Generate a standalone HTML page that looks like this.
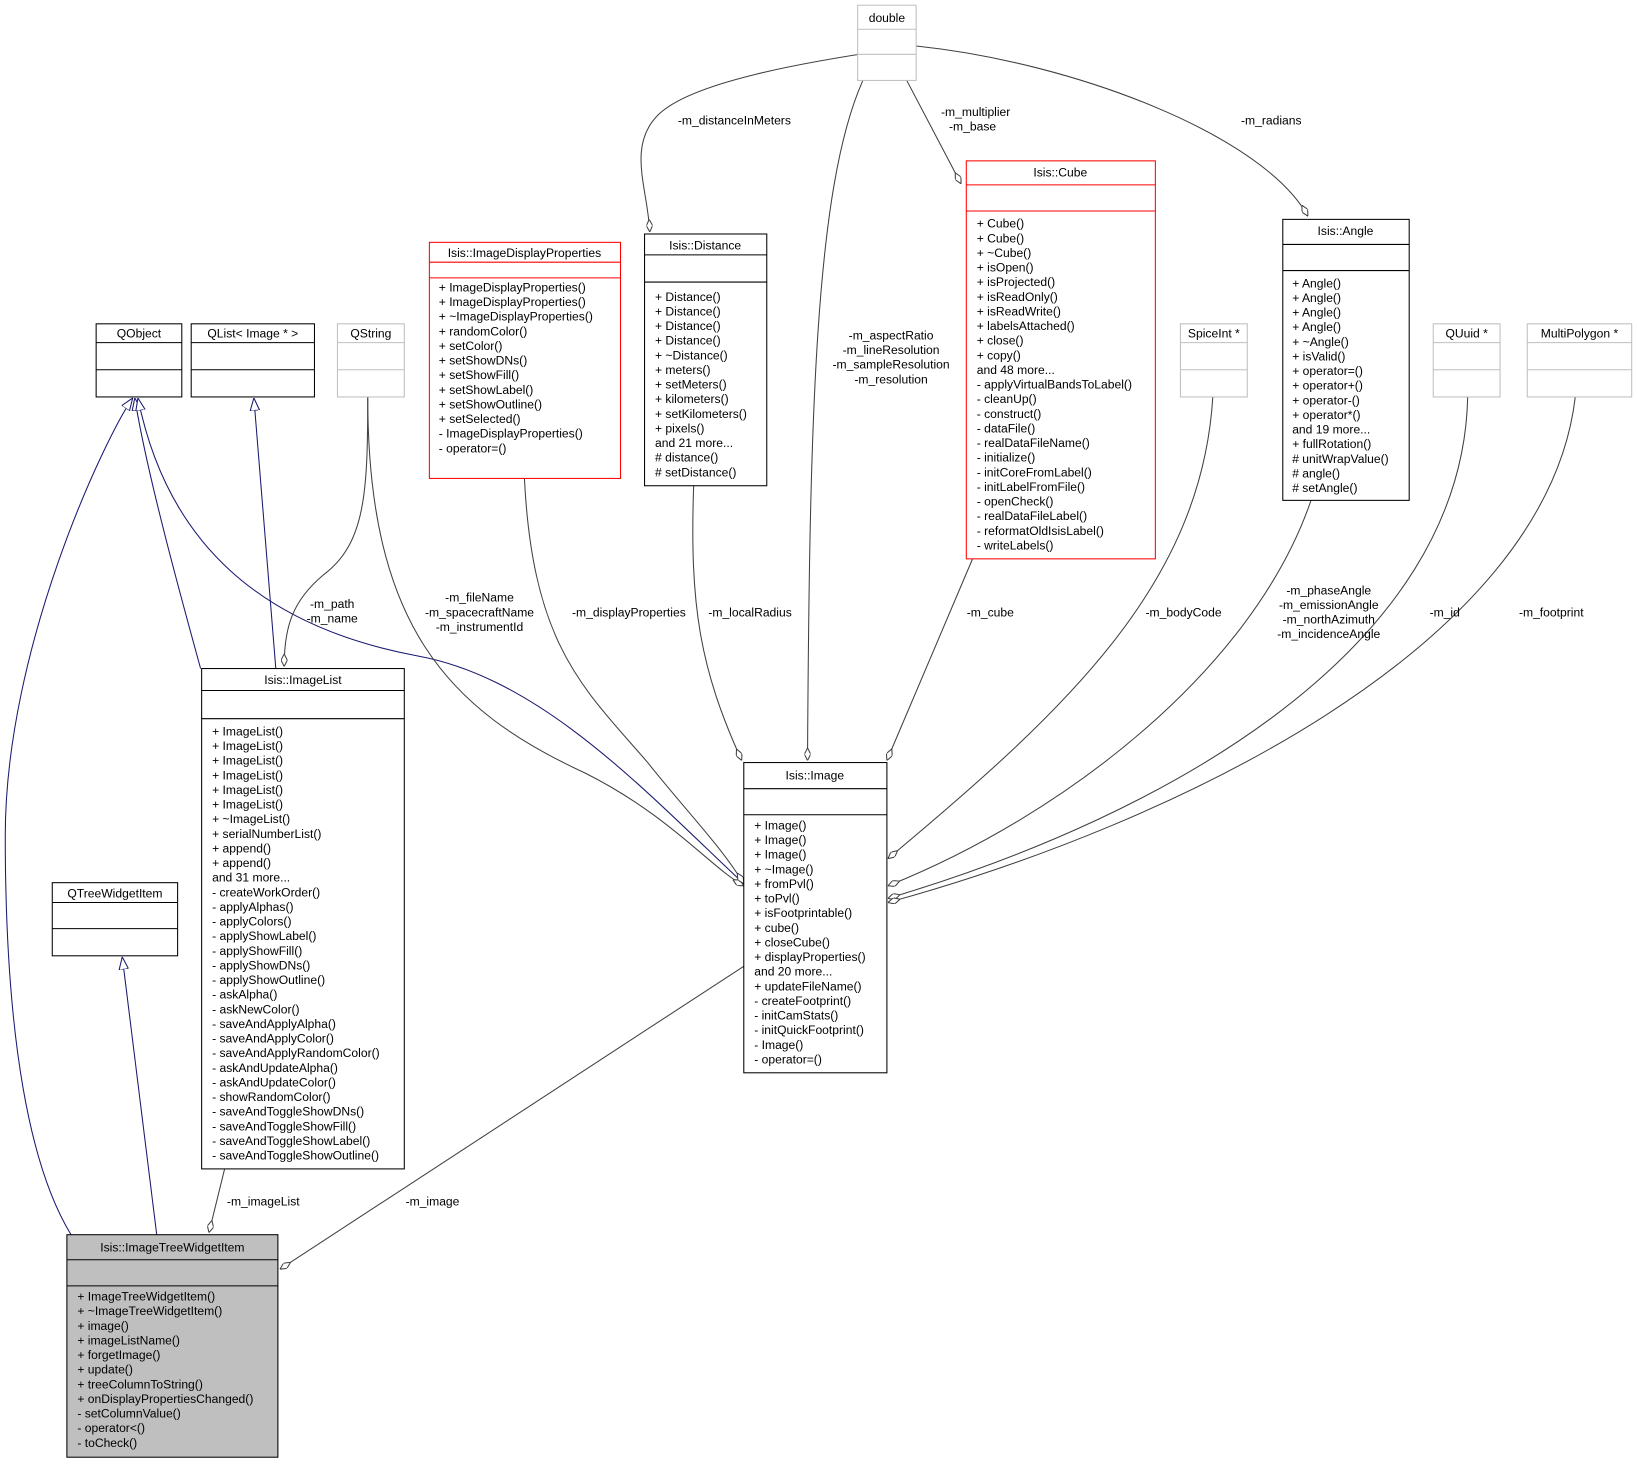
<!DOCTYPE html>
<html><head><meta charset="utf-8"><style>
html,body{margin:0;padding:0;background:#fff;}
svg{display:block;}
text{font-family:"Liberation Sans",sans-serif;font-size:11.6px;fill:#000;}
</style></head><body>
<svg width="1638" height="1464" viewBox="0 0 1568 1401.5" xmlns="http://www.w3.org/2000/svg">
<defs>
<marker id="dia" viewBox="0 0 12 6" refX="12" refY="3" markerWidth="12" markerHeight="6" markerUnits="userSpaceOnUse" orient="auto">
<path d="M0,3 L6,0 L12,3 L6,6 Z" fill="#fff" stroke="#404040" stroke-width="1"/>
</marker>
<marker id="tri" viewBox="0 0 12 10" refX="12" refY="5" markerWidth="12" markerHeight="10" markerUnits="userSpaceOnUse" orient="auto">
<path d="M0,0.5 L12,5 L0,9.5 Z" fill="#fff" stroke="#191970" stroke-width="1"/>
</marker>
</defs>
<g fill="none" stroke-width="1">
<path d="M68,1182 C30,1120 5,1000 5,800 C5,620 100,420 127,381" stroke="#191970" marker-end="url(#tri)"/>
<path d="M192,640 C170,560 140,450 129,381" stroke="#191970" marker-end="url(#tri)"/>
<path d="M712,846 C620,760 520,650 400,628 C250,600 160,520 132,381" stroke="#191970" marker-end="url(#tri)"/>
<path d="M150,1182 L117,916" stroke="#191970" marker-end="url(#tri)"/>
<path d="M264,640 L243,381" stroke="#191970" marker-end="url(#tri)"/>
<g stroke="#404040">
<path d="M352,380 C352,470 350,520 310,550 C280,575 272,600 272,638" marker-end="url(#dia)"/>
<path d="M352,380 C352,600 430,680 560,740 C640,780 680,830 712,848" marker-end="url(#dia)"/>
<path d="M502,458 C510,620 560,660 620,730 C660,780 690,810 712,846" marker-end="url(#dia)"/>
<path d="M664,465 C660,580 670,640 710,728" marker-end="url(#dia)"/>
<path d="M877,44 C760,60 660,80 630,110 C600,140 620,180 622,222" marker-end="url(#dia)"/>
<path d="M826,77 C780,180 775,400 773,728" marker-end="url(#dia)"/>
<path d="M868,77 L920,176" marker-end="url(#dia)"/>
<path d="M877,44 C1030,60 1210,130 1252,207" marker-end="url(#dia)"/>
<path d="M931,535 L849,728" marker-end="url(#dia)"/>
<path d="M1161,380 C1150,560 1020,680 850,822" marker-end="url(#dia)"/>
<path d="M1255,479 C1200,640 1020,780 850,848" marker-end="url(#dia)"/>
<path d="M1405,380 C1400,620 1120,780 850,860" marker-end="url(#dia)"/>
<path d="M1508,380 C1480,620 1120,790 850,864" marker-end="url(#dia)"/>
<path d="M215,1119 L200,1180" marker-end="url(#dia)"/>
<path d="M712,925 L268,1215" marker-end="url(#dia)"/>
</g>
</g>
<g text-anchor="middle">
<text x="318" y="582">-m_path</text><text x="318" y="596">-m_name</text>
<text x="459" y="576">-m_fileName</text><text x="459" y="590">-m_spacecraftName</text><text x="459" y="604">-m_instrumentId</text>
<text x="602" y="590">-m_displayProperties</text>
<text x="718" y="590">-m_localRadius</text>
<text x="703" y="119">-m_distanceInMeters</text>
<text x="853" y="325">-m_aspectRatio</text><text x="853" y="339">-m_lineResolution</text><text x="853" y="353">-m_sampleResolution</text><text x="853" y="367">-m_resolution</text>
<text x="934" y="111">-m_multiplier</text><text x="931" y="125">-m_base</text>
<text x="1217" y="119">-m_radians</text>
<text x="948" y="590">-m_cube</text>
<text x="1133" y="590">-m_bodyCode</text>
<text x="1272" y="569">-m_phaseAngle</text><text x="1272" y="583">-m_emissionAngle</text><text x="1272" y="597">-m_northAzimuth</text><text x="1272" y="611">-m_incidenceAngle</text>
<text x="1383" y="590">-m_id</text>
<text x="1485" y="590">-m_footprint</text>
<text x="252" y="1154">-m_imageList</text>
<text x="414" y="1154">-m_image</text>
</g>
<g stroke-width="1">
<g fill="#fff" stroke="#bfbfbf">
<rect x="821" y="5" width="56" height="72"/><line x1="821" y1="28" x2="877" y2="28"/><line x1="821" y1="52" x2="877" y2="52"/>
<rect x="323" y="310" width="64" height="70"/><line x1="323" y1="328" x2="387" y2="328"/><line x1="323" y1="354" x2="387" y2="354"/>
<rect x="1130" y="310" width="64" height="70"/><line x1="1130" y1="328" x2="1194" y2="328"/><line x1="1130" y1="354" x2="1194" y2="354"/>
<rect x="1372" y="310" width="64" height="70"/><line x1="1372" y1="328" x2="1436" y2="328"/><line x1="1372" y1="354" x2="1436" y2="354"/>
<rect x="1462" y="310" width="100" height="70"/><line x1="1462" y1="328" x2="1562" y2="328"/><line x1="1462" y1="354" x2="1562" y2="354"/>
</g>
<g fill="#fff" stroke="#000">
<rect x="92" y="310" width="82" height="70"/><line x1="92" y1="328" x2="174" y2="328"/><line x1="92" y1="354" x2="174" y2="354"/>
<rect x="183" y="310" width="118" height="70"/><line x1="183" y1="328" x2="301" y2="328"/><line x1="183" y1="354" x2="301" y2="354"/>
<rect x="50" y="845" width="120" height="70"/><line x1="50" y1="864" x2="170" y2="864"/><line x1="50" y1="889" x2="170" y2="889"/>
<rect x="617" y="224" width="117" height="241"/><line x1="617" y1="244" x2="734" y2="244"/><line x1="617" y1="270" x2="734" y2="270"/>
<rect x="1228" y="210" width="121" height="269"/><line x1="1228" y1="234" x2="1349" y2="234"/><line x1="1228" y1="259" x2="1349" y2="259"/>
<rect x="193" y="640" width="194" height="479"/><line x1="193" y1="661" x2="387" y2="661"/><line x1="193" y1="688" x2="387" y2="688"/>
<rect x="712" y="730" width="137" height="297"/><line x1="712" y1="755" x2="849" y2="755"/><line x1="712" y1="780" x2="849" y2="780"/>
</g>
<g fill="#fff" stroke="#ff0000">
<rect x="411" y="232" width="183" height="226"/><line x1="411" y1="251" x2="594" y2="251"/><line x1="411" y1="266" x2="594" y2="266"/>
<rect x="925" y="154" width="181" height="381"/><line x1="925" y1="177" x2="1106" y2="177"/><line x1="925" y1="202" x2="1106" y2="202"/>
</g>
<g fill="#bfbfbf" stroke="#000">
<rect x="64" y="1182" width="202" height="213"/><line x1="64" y1="1206" x2="266" y2="1206"/><line x1="64" y1="1231" x2="266" y2="1231"/>
</g>
</g>
<g text-anchor="middle">
<text x="849" y="21">double</text>
<text x="355" y="323">QString</text>
<text x="1162" y="323">SpiceInt *</text>
<text x="1404" y="323">QUuid *</text>
<text x="1512" y="323">MultiPolygon *</text>
<text x="133" y="323">QObject</text>
<text x="242" y="323">QList&lt; Image * &gt;</text>
<text x="110" y="859">QTreeWidgetItem</text>
<text x="502" y="246">Isis::ImageDisplayProperties</text>
<text x="675" y="239">Isis::Distance</text>
<text x="1015" y="169">Isis::Cube</text>
<text x="1288" y="225">Isis::Angle</text>
<text x="290" y="655">Isis::ImageList</text>
<text x="780" y="746">Isis::Image</text>
<text x="165" y="1198">Isis::ImageTreeWidgetItem</text>
</g>
<text x="420" y="279"><tspan x="420" dy="0">+ ImageDisplayProperties()</tspan><tspan x="420" dy="14">+ ImageDisplayProperties()</tspan><tspan x="420" dy="14">+ ~ImageDisplayProperties()</tspan><tspan x="420" dy="14">+ randomColor()</tspan><tspan x="420" dy="14">+ setColor()</tspan><tspan x="420" dy="14">+ setShowDNs()</tspan><tspan x="420" dy="14">+ setShowFill()</tspan><tspan x="420" dy="14">+ setShowLabel()</tspan><tspan x="420" dy="14">+ setShowOutline()</tspan><tspan x="420" dy="14">+ setSelected()</tspan><tspan x="420" dy="14">- ImageDisplayProperties()</tspan><tspan x="420" dy="14">- operator=()</tspan></text>
<text x="627" y="288"><tspan x="627" dy="0">+ Distance()</tspan><tspan x="627" dy="14">+ Distance()</tspan><tspan x="627" dy="14">+ Distance()</tspan><tspan x="627" dy="14">+ Distance()</tspan><tspan x="627" dy="14">+ ~Distance()</tspan><tspan x="627" dy="14">+ meters()</tspan><tspan x="627" dy="14">+ setMeters()</tspan><tspan x="627" dy="14">+ kilometers()</tspan><tspan x="627" dy="14">+ setKilometers()</tspan><tspan x="627" dy="14">+ pixels()</tspan><tspan x="627" dy="14">and 21 more...</tspan><tspan x="627" dy="14"># distance()</tspan><tspan x="627" dy="14"># setDistance()</tspan></text>
<text x="935" y="218"><tspan x="935" dy="0">+ Cube()</tspan><tspan x="935" dy="14">+ Cube()</tspan><tspan x="935" dy="14">+ ~Cube()</tspan><tspan x="935" dy="14">+ isOpen()</tspan><tspan x="935" dy="14">+ isProjected()</tspan><tspan x="935" dy="14">+ isReadOnly()</tspan><tspan x="935" dy="14">+ isReadWrite()</tspan><tspan x="935" dy="14">+ labelsAttached()</tspan><tspan x="935" dy="14">+ close()</tspan><tspan x="935" dy="14">+ copy()</tspan><tspan x="935" dy="14">and 48 more...</tspan><tspan x="935" dy="14">- applyVirtualBandsToLabel()</tspan><tspan x="935" dy="14">- cleanUp()</tspan><tspan x="935" dy="14">- construct()</tspan><tspan x="935" dy="14">- dataFile()</tspan><tspan x="935" dy="14">- realDataFileName()</tspan><tspan x="935" dy="14">- initialize()</tspan><tspan x="935" dy="14">- initCoreFromLabel()</tspan><tspan x="935" dy="14">- initLabelFromFile()</tspan><tspan x="935" dy="14">- openCheck()</tspan><tspan x="935" dy="14">- realDataFileLabel()</tspan><tspan x="935" dy="14">- reformatOldIsisLabel()</tspan><tspan x="935" dy="14">- writeLabels()</tspan></text>
<text x="1237" y="275"><tspan x="1237" dy="0">+ Angle()</tspan><tspan x="1237" dy="14">+ Angle()</tspan><tspan x="1237" dy="14">+ Angle()</tspan><tspan x="1237" dy="14">+ Angle()</tspan><tspan x="1237" dy="14">+ ~Angle()</tspan><tspan x="1237" dy="14">+ isValid()</tspan><tspan x="1237" dy="14">+ operator=()</tspan><tspan x="1237" dy="14">+ operator+()</tspan><tspan x="1237" dy="14">+ operator-()</tspan><tspan x="1237" dy="14">+ operator*()</tspan><tspan x="1237" dy="14">and 19 more...</tspan><tspan x="1237" dy="14">+ fullRotation()</tspan><tspan x="1237" dy="14"># unitWrapValue()</tspan><tspan x="1237" dy="14"># angle()</tspan><tspan x="1237" dy="14"># setAngle()</tspan></text>
<text x="203" y="704"><tspan x="203" dy="0">+ ImageList()</tspan><tspan x="203" dy="14">+ ImageList()</tspan><tspan x="203" dy="14">+ ImageList()</tspan><tspan x="203" dy="14">+ ImageList()</tspan><tspan x="203" dy="14">+ ImageList()</tspan><tspan x="203" dy="14">+ ImageList()</tspan><tspan x="203" dy="14">+ ~ImageList()</tspan><tspan x="203" dy="14">+ serialNumberList()</tspan><tspan x="203" dy="14">+ append()</tspan><tspan x="203" dy="14">+ append()</tspan><tspan x="203" dy="14">and 31 more...</tspan><tspan x="203" dy="14">- createWorkOrder()</tspan><tspan x="203" dy="14">- applyAlphas()</tspan><tspan x="203" dy="14">- applyColors()</tspan><tspan x="203" dy="14">- applyShowLabel()</tspan><tspan x="203" dy="14">- applyShowFill()</tspan><tspan x="203" dy="14">- applyShowDNs()</tspan><tspan x="203" dy="14">- applyShowOutline()</tspan><tspan x="203" dy="14">- askAlpha()</tspan><tspan x="203" dy="14">- askNewColor()</tspan><tspan x="203" dy="14">- saveAndApplyAlpha()</tspan><tspan x="203" dy="14">- saveAndApplyColor()</tspan><tspan x="203" dy="14">- saveAndApplyRandomColor()</tspan><tspan x="203" dy="14">- askAndUpdateAlpha()</tspan><tspan x="203" dy="14">- askAndUpdateColor()</tspan><tspan x="203" dy="14">- showRandomColor()</tspan><tspan x="203" dy="14">- saveAndToggleShowDNs()</tspan><tspan x="203" dy="14">- saveAndToggleShowFill()</tspan><tspan x="203" dy="14">- saveAndToggleShowLabel()</tspan><tspan x="203" dy="14">- saveAndToggleShowOutline()</tspan></text>
<text x="722" y="794"><tspan x="722" dy="0">+ Image()</tspan><tspan x="722" dy="14">+ Image()</tspan><tspan x="722" dy="14">+ Image()</tspan><tspan x="722" dy="14">+ ~Image()</tspan><tspan x="722" dy="14">+ fromPvl()</tspan><tspan x="722" dy="14">+ toPvl()</tspan><tspan x="722" dy="14">+ isFootprintable()</tspan><tspan x="722" dy="14">+ cube()</tspan><tspan x="722" dy="14">+ closeCube()</tspan><tspan x="722" dy="14">+ displayProperties()</tspan><tspan x="722" dy="14">and 20 more...</tspan><tspan x="722" dy="14">+ updateFileName()</tspan><tspan x="722" dy="14">- createFootprint()</tspan><tspan x="722" dy="14">- initCamStats()</tspan><tspan x="722" dy="14">- initQuickFootprint()</tspan><tspan x="722" dy="14">- Image()</tspan><tspan x="722" dy="14">- operator=()</tspan></text>
<text x="74" y="1245"><tspan x="74" dy="0">+ ImageTreeWidgetItem()</tspan><tspan x="74" dy="14">+ ~ImageTreeWidgetItem()</tspan><tspan x="74" dy="14">+ image()</tspan><tspan x="74" dy="14">+ imageListName()</tspan><tspan x="74" dy="14">+ forgetImage()</tspan><tspan x="74" dy="14">+ update()</tspan><tspan x="74" dy="14">+ treeColumnToString()</tspan><tspan x="74" dy="14">+ onDisplayPropertiesChanged()</tspan><tspan x="74" dy="14">- setColumnValue()</tspan><tspan x="74" dy="14">- operator&lt;()</tspan><tspan x="74" dy="14">- toCheck()</tspan></text>
</svg>
</body></html>
